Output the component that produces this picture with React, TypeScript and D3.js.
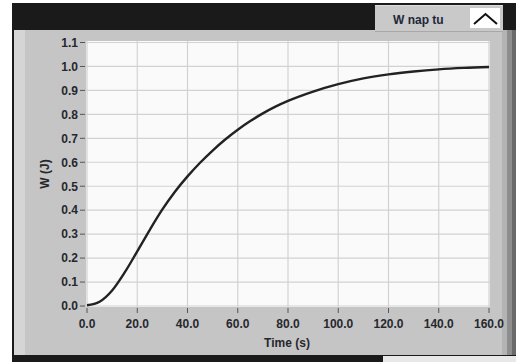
import React from "react";
import * as d3 from "d3";

const timeValues = [0, 5, 10, 15, 20, 25, 30, 35, 40, 45, 50, 55, 60, 65, 70, 75, 80, 90, 100, 110, 120, 130, 140, 150, 160];
const energyValues = [0.003, 0.018, 0.065, 0.14, 0.228, 0.318, 0.403, 0.477, 0.541, 0.598, 0.649, 0.695, 0.736, 0.772, 0.804, 0.832, 0.856, 0.895, 0.926, 0.95, 0.967, 0.979, 0.988, 0.994, 0.998];
const xTicks = [0, 20, 40, 60, 80, 100, 120, 140, 160];
const yTicks = [0, 0.1, 0.2, 0.3, 0.4, 0.5, 0.6, 0.7, 0.8, 0.9, 1.0, 1.1];
const legendLabel = "W nap tu";
const xTitle = "Time (s)";
const yTitle = "W (J)";

const W = 516;
const H = 362;
const plot = { left: 86, right: 490, top: 41, bottom: 307 };
const font = "'Liberation Sans', Arial, sans-serif";

export default function App() {
  const x = d3.scaleLinear().domain([0, 160]).range([87, 489]);
  const y = d3.scaleLinear().domain([0, 1.1]).range([306, 42.5]);
  const pts: [number, number][] = timeValues.map((t, i) => [t, energyValues[i]]);
  const line = d3
    .line<[number, number]>()
    .x((d) => x(d[0]))
    .y((d) => y(d[1]))
    .curve(d3.curveMonotoneX);

  return (
    <svg
      width={W}
      height={H}
      style={{ position: "absolute", left: 0, top: 0, display: "block" }}
      fontFamily={font}
    >
      <rect x={0} y={0} width={W} height={H} fill="#ffffff" />
      <rect x={12} y={3} width={W - 12} height={H - 3} fill="#1a1a1a" />
      {/* panel */}
      <rect x={14} y={30} width={493} height={325} fill="#c5c5c5" />
      <rect x={14} y={30} width={11} height={325} fill="#d5d5d5" />
      <rect x={502} y={30} width={5} height={325} fill="#b4b4b4" />
      <rect x={507} y={30} width={5} height={325} fill="#8e8e8e" />
      <rect x={512} y={30} width={4} height={325} fill="#6a6a6a" />
      <rect x={383} y={356} width={133} height={6} fill="#e8e8e8" />
      {/* legend */}
      <rect x={375} y={5} width={128} height={27} fill="#c9c9c9" />
      <rect x={375} y={5} width={128} height={1} fill="#dcdcdc" />
      <rect x={375} y={31} width={128} height={1} fill="#a8a8a8" />
      <text x={393} y={24} fontSize={12} fontWeight="bold" fill="#1d2838">
        {legendLabel}
      </text>
      <rect x={470} y={8} width={30} height={20} fill="#ffffff" />
      <polyline points="474,24 485.5,14 497,24" fill="none" stroke="#111" strokeWidth={2} />
      {/* plot area */}
      <rect
        x={plot.left}
        y={plot.top}
        width={plot.right - plot.left}
        height={plot.bottom - plot.top}
        fill="#fafafa"
      />
      {xTicks.map((t) => (
        <line
          key={"gx" + t}
          x1={x(t)}
          x2={x(t)}
          y1={plot.top}
          y2={plot.bottom}
          stroke="#d2d2d2"
          strokeWidth={1.2}
        />
      ))}
      {yTicks.map((v) => (
        <line
          key={"gy" + v}
          x1={plot.left}
          x2={plot.right}
          y1={y(v)}
          y2={y(v)}
          stroke="#d2d2d2"
          strokeWidth={1.2}
        />
      ))}
      {/* ticks and labels */}
      {yTicks.map((v) => (
        <g key={"ty" + v}>
          <line x1={80} x2={85} y1={y(v)} y2={y(v)} stroke="#555" strokeWidth={1} />
          <text
            x={78}
            y={y(v) + 4.3}
            fontSize={12}
            fontWeight="bold"
            textAnchor="end"
            fill="#26282e"
          >
            {v.toFixed(1)}
          </text>
        </g>
      ))}
      {xTicks.map((t) => (
        <g key={"tx" + t}>
          <line x1={x(t)} x2={x(t)} y1={308} y2={313} stroke="#555" strokeWidth={1} />
          <text
            x={x(t)}
            y={328}
            fontSize={12}
            fontWeight="bold"
            textAnchor="middle"
            fill="#26282e"
          >
            {t.toFixed(1)}
          </text>
        </g>
      ))}
      <text x={287} y={347} fontSize={12} fontWeight="bold" textAnchor="middle" fill="#26282e">
        {xTitle}
      </text>
      <text
        transform={`translate(49,174) rotate(-90)`}
        fontSize={12}
        fontWeight="bold"
        textAnchor="middle"
        fill="#26282e"
      >
        {yTitle}
      </text>
      <path d={line(pts) || ""} fill="none" stroke="#222" strokeWidth={2.4} />
    </svg>
  );
}
